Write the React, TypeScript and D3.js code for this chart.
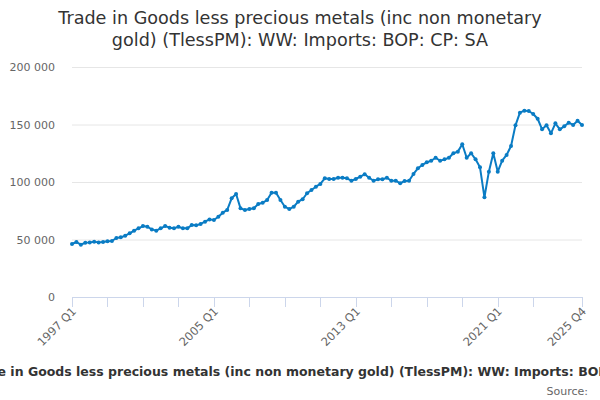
import { useEffect, useRef } from "react";
import * as d3 from "d3";

// quarterly values, 1997 Q1 .. 2025 Q4
const startYear = 1997;
const values: number[] = [
  46100, 47800, 45500, 47200, 47500, 48100, 47500, 47800, 48400, 48700,
  51300, 51900, 53300, 55400, 57700, 59700, 61700, 61100, 58800, 57700,
  59700, 61700, 60300, 59700, 61100, 59700, 59700, 62600, 62300, 63500,
  65500, 67500, 67000, 69800, 73300, 75700, 85800, 89600, 77100, 75700,
  76500, 77100, 80900, 82000, 84300, 90700, 90700, 84300, 78500, 76500,
  78500, 82900, 85000, 90200, 93000, 95900, 98300, 103200, 102600, 102600,
  103700, 103700, 103200, 101100, 102600, 104600, 106700, 103700, 101100, 102300,
  102300, 103700, 101100, 101100, 98900, 100900, 101100, 107000, 111900, 114800,
  117100, 118500, 121100, 118500, 119700, 121100, 125000, 126400, 132800, 121100,
  125000, 119700, 112800, 86700, 109000, 125000, 109000, 118500, 123500, 131300,
  149300, 160300, 162000, 161700, 159100, 155000, 145800, 149300, 142300, 151000,
  145800, 148400, 151600, 149600, 153300, 149600,
];
const quarters = values.map((_, i) => `${startYear + Math.floor(i / 4)} Q${(i % 4) + 1}`);
const yTicks = [0, 50000, 100000, 150000, 200000];
const tickIdx = [0, 8, 16, 24, 32, 40, 48, 56, 64, 72, 80, 88, 96, 104, 115];
const labelIdx = [0, 32, 64, 96, 115];

const titleLines = [
  "Trade in Goods less precious metals (inc non monetary",
  "gold) (TlessPM): WW: Imports: BOP: CP: SA",
];
const axisTitle =
  "Trade in Goods less precious metals (inc non monetary gold) (TlessPM): WW: Imports: BOP: CP: SA";

export default function App() {
  const svgRef = useRef<SVGSVGElement>(null);

  useEffect(() => {
    if (!svgRef.current) return;
    const svg = d3.select(svgRef.current);
    svg.selectAll("*").remove();

    const W = 600, H = 400;
    const font = "'DejaVu Sans', sans-serif";
    const color = "#0a7cc4";

    const x = d3.scaleLinear().domain([0, values.length - 1]).range([72, 582]);
    const y = d3.scaleLinear().domain([0, 200000]).range([297, 67]);
    const fmt = d3.formatLocale({ decimal: ".", thousands: " ", grouping: [3], currency: ["", ""] }).format(",d");

    svg.attr("width", W).attr("height", H).style("font-family", font);
    svg.append("rect").attr("width", W).attr("height", H).attr("fill", "#fff");

    // title
    svg.append("text")
      .attr("x", W / 2)
      .attr("text-anchor", "middle")
      .attr("fill", "#333")
      .style("font-size", "17.6px")
      .selectAll("tspan")
      .data(titleLines)
      .enter()
      .append("tspan")
      .attr("x", W / 2)
      .attr("y", (_, i) => 24 + i * 22)
      .text(d => d);

    // grid + y labels
    const grid = svg.append("g");
    grid.selectAll("line")
      .data(yTicks.filter(d => d > 0))
      .enter()
      .append("line")
      .attr("x1", 72).attr("x2", 582)
      .attr("y1", d => y(d) + 0.5).attr("y2", d => y(d) + 0.5)
      .attr("stroke", "#e6e6e6");
    grid.selectAll("text")
      .data(yTicks)
      .enter()
      .append("text")
      .attr("x", 55)
      .attr("y", d => y(d) + 4)
      .attr("text-anchor", "end")
      .attr("fill", "#666")
      .style("font-size", "11px")
      .text(d => fmt(d));

    // x axis
    const xa = svg.append("g");
    xa.append("line")
      .attr("x1", 72).attr("x2", 582)
      .attr("y1", 297.5).attr("y2", 297.5)
      .attr("stroke", "#ccd6eb");
    xa.selectAll("line.tick")
      .data(tickIdx)
      .enter()
      .append("line")
      .attr("class", "tick")
      .attr("x1", d => Math.round(x(d)) + 0.5).attr("x2", d => Math.round(x(d)) + 0.5)
      .attr("y1", 297).attr("y2", 307)
      .attr("stroke", "#ccd6eb");
    xa.selectAll("text")
      .data(labelIdx)
      .enter()
      .append("text")
      .attr("transform", d => `translate(${x(d) + 5},${312}) rotate(-45)`)
      .attr("text-anchor", "end")
      .attr("fill", "#666")
      .style("font-size", "11.5px")
      .text(d => quarters[d]);

    // series
    const line = d3.line<number>().x((_, i) => x(i)).y(d => y(d));
    svg.append("path")
      .datum(values)
      .attr("d", line)
      .attr("fill", "none")
      .attr("stroke", color)
      .attr("stroke-width", 2)
      .attr("stroke-linejoin", "round");
    svg.append("g")
      .selectAll("circle")
      .data(values)
      .enter()
      .append("circle")
      .attr("cx", (_, i) => x(i))
      .attr("cy", d => y(d))
      .attr("r", 2)
      .attr("fill", color);

    // axis title (wider than the chart, clipped like the original) and source
    svg.append("text")
      .attr("x", 315)
      .attr("y", 376)
      .attr("text-anchor", "middle")
      .attr("fill", "#333")
      .style("font-size", "12.5px")
      .style("font-weight", "bold")
      .text(axisTitle);
    svg.append("text")
      .attr("x", 588)
      .attr("y", 395)
      .attr("text-anchor", "end")
      .attr("fill", "#666")
      .style("font-size", "11px")
      .text("Source:");
  }, []);

  return (
    <div style={{ position: "absolute", left: 0, top: 0, width: 600, height: 400, overflow: "hidden" }}>
      <svg ref={svgRef} style={{ display: "block" }} />
    </div>
  );
}
